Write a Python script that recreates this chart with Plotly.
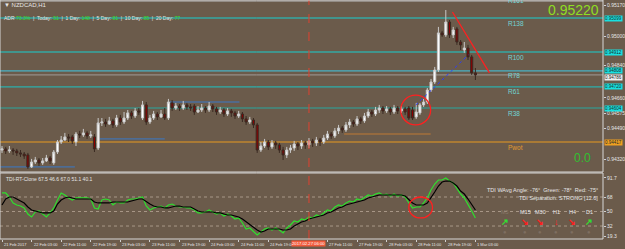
import plotly.graph_objects as go

# ---------------- data (prices in 1e-5 units, i.e. points) ----------------
opens = [94373,94379,94368,94373,94368,94357,94351,94346,94280,94307,
         94318,94302,94313,94329,94302,94362,94417,94428,94445,94445,
         94417,94461,94456,94467,94450,94445,94384,94522,94527,94516,
         94533,94511,94549,94527,94549,94577,94560,94588,94549,94621,
         94527,94549,94571,94555,94571,94549,94632,94604,94615,94604,
         94621,94610,94615,94582,94593,94604,94593,94615,94599,94582,
         94593,94571,94588,94577,94560,94571,94544,94527,94538,94511,
         94373,94395,94417,94390,94412,94401,94373,94346,94373,94384,
         94406,94395,94412,94401,94423,94412,94428,94417,94439,94461,
         94450,94478,94494,94483,94511,94527,94516,94544,94533,94560,
         94582,94571,94593,94604,94588,94599,94582,94604,94588,94599,
         94604,94593,94555,94577,94621,94637,94703,94747,94813,95017,
         95006,95077,95006,95039,94967,94923,94934,94885,94797]
highs = [94395,94390,94395,94384,94379,94373,94362,94357,94324,94335,
         94329,94329,94346,94340,94373,94428,94450,94467,94461,94456,
         94472,94478,94489,94478,94478,94461,94549,94549,94544,94555,
         94544,94566,94566,94582,94593,94588,94604,94604,94643,94637,
         94566,94588,94582,94593,94604,94654,94648,94632,94626,94643,
         94632,94626,94626,94615,94626,94615,94637,94626,94610,94610,
         94604,94604,94599,94588,94588,94582,94560,94555,94549,94522,
         94417,94434,94428,94428,94423,94412,94390,94390,94401,94423,
         94417,94428,94423,94439,94434,94445,94439,94456,94478,94472,
         94494,94511,94505,94527,94544,94538,94560,94555,94577,94599,
         94593,94610,94621,94615,94615,94610,94621,94615,94615,94610,
         94615,94610,94632,94632,94654,94714,94764,94830,95050,95028,
         95143,95088,95050,95050,94978,94967,94951,94896,94824]
lows = [94357,94351,94357,94346,94340,94335,94324,94269,94274,94296,
        94285,94291,94307,94296,94291,94351,94406,94423,94417,94406,
        94395,94439,94445,94434,94439,94362,94373,94505,94500,94511,
        94494,94500,94511,94516,94538,94544,94549,94566,94538,94511,
        94516,94538,94538,94549,94538,94538,94588,94593,94588,94593,
        94593,94588,94566,94577,94582,94577,94582,94582,94566,94571,
        94555,94560,94555,94544,94549,94527,94511,94516,94494,94357,
        94362,94384,94373,94379,94379,94357,94318,94329,94357,94368,
        94373,94379,94379,94384,94390,94395,94395,94406,94428,94434,
        94439,94461,94467,94472,94494,94500,94505,94516,94522,94549,
        94555,94560,94577,94571,94577,94566,94571,94571,94577,94566,
        94538,94538,94544,94566,94610,94626,94692,94736,94802,94995,
        94995,94989,94989,94951,94923,94907,94868,94786,94758]
closes = [94379,94368,94373,94368,94357,94351,94340,94280,94307,94318,
          94302,94313,94329,94313,94362,94417,94428,94445,94439,94423,
          94461,94456,94467,94450,94456,94379,94522,94527,94516,94533,
          94511,94549,94527,94549,94577,94560,94588,94582,94621,94527,
          94549,94571,94555,94571,94549,94637,94604,94615,94604,94621,
          94610,94604,94582,94593,94604,94593,94615,94599,94582,94593,
          94571,94588,94577,94560,94571,94544,94527,94538,94511,94373,
          94395,94417,94390,94412,94401,94373,94346,94373,94384,94406,
          94395,94412,94401,94423,94412,94428,94417,94439,94461,94450,
          94478,94494,94483,94511,94527,94516,94544,94533,94560,94582,
          94571,94593,94604,94588,94599,94582,94604,94588,94599,94582,
          94549,94549,94582,94621,94637,94703,94747,94813,95017,95006,
          95077,95006,95033,94967,94951,94934,94885,94797,94786]

tdi_green = [73.0,73.0,68.0,60.6,58.1,56.8,54.4,46.9,43.2,49.4,
             50.6,46.9,43.2,48.2,54.4,64.3,73.0,70.5,66.8,64.3,
             66.8,66.8,66.8,66.8,65.5,54.4,53.1,64.3,65.5,64.3,
             58.1,61.8,60.6,60.6,64.3,65.5,65.5,66.8,68.0,56.8,
             51.9,54.4,55.6,56.8,54.4,58.1,59.3,56.8,55.6,55.6,
             54.4,54.4,51.9,48.2,48.2,49.4,51.9,49.4,46.9,48.2,
             44.4,46.9,44.4,40.7,42.0,35.8,28.3,29.6,24.6,20.9,
             24.6,28.3,29.6,27.1,29.6,27.1,23.4,29.6,33.3,38.2,
             37.0,40.7,39.5,43.2,42.0,45.7,44.4,48.2,51.9,50.6,
             55.6,58.1,56.8,60.6,63.0,61.8,65.5,64.3,68.0,70.5,
             69.2,71.7,73.0,70.5,71.7,69.2,71.7,69.2,70.5,68.0,
             60.6,54.4,55.6,55.6,60.6,66.8,76.7,84.1,89.1,89.1,
             91.6,87.8,85.4,77.9,71.7,66.8,59.3,50.6,42.0]
tdi_signal = [58.1,65.5,68.0,68.0,65.5,63.0,60.6,55.6,51.9,50.6,
              49.4,48.2,48.2,48.2,50.6,59.3,64.3,66.8,68.0,66.8,
              65.5,65.5,65.5,65.5,65.5,61.8,60.6,60.6,60.6,60.6,
              61.8,61.8,61.8,61.8,61.8,63.0,64.3,65.5,65.5,61.8,
              59.3,56.8,55.6,55.6,54.4,54.4,55.6,56.8,56.8,55.6,
              55.6,55.6,53.1,50.6,49.4,49.4,49.4,49.4,48.2,48.2,
              46.9,45.7,45.7,44.4,43.2,40.7,37.0,33.3,30.8,27.1,
              24.6,25.8,28.3,28.3,28.3,28.3,27.1,27.1,28.3,32.0,
              34.5,37.0,38.2,40.7,42.0,43.2,44.4,45.7,48.2,49.4,
              51.9,54.4,55.6,58.1,59.3,60.6,61.8,63.0,64.3,66.8,
              68.0,69.2,70.5,70.5,70.5,70.5,70.5,70.5,70.5,69.2,
              65.5,60.6,58.1,58.1,58.1,60.6,66.8,74.2,81.6,86.6,
              87.8,87.8,85.4,81.6,75.4,71.7,65.5,58.1,51.9]

time_label_bars = [0, 8, 16, 24, 32, 40, 48, 56, 64, 72, 88, 96, 104, 112, 120, 128]
time_labels = ["21 Feb 2017", "22 Feb 03:00", "22 Feb 11:00", "22 Feb 19:00",
               "23 Feb 03:00", "23 Feb 11:00", "23 Feb 19:00", "24 Feb 03:00",
               "24 Feb 11:00", "24 Feb 19:00", "27 Feb 11:00", "27 Feb 19:00",
               "28 Feb 03:00", "28 Feb 11:00", "28 Feb 19:00", "1 Mar 03:00"]
cursor_bar = 83
cursor_label = "2017.02.27 06:00"

price_ticks = [95170, 95000, 94840, 94660, 94575, 94490, 94320]
tdi_ticks = [91.7, 68, 50, 32, 19.3]
tdi_levels = [68, 50, 32]

level_names = ["R161", "R138", "R100", "R78", "R61", "R38", "Pwot"]
level_prices = [95192, 95099, 94912, 94808, 94720, 94604, 94417]
bid_price = 94786

# short horizontal segments (bar from, bar to, price)
seg_from = [26.4, -0.5, 45.3, 92.5]
seg_to = [44.0, 19.7, 64.2, 115.9]
seg_price = [94434, 94280, 94637, 94461]
seg_color = ["#3a78c8", "#3a78c8", "#3a78c8", "#c07a35"]

# ---------------- figure ----------------
S = 1e5
bars = list(range(len(closes)))
PW, PH = 605, 239
BG = "#6b5b4b"
WHITE = "#e6e6e6"
FONT = "Liberation Sans"

def px(x):
    return x / PW

def py(y):
    return (PH - y) / PH

fig = go.Figure()
fig.add_trace(go.Candlestick(
    x=bars, open=[v / S for v in opens], high=[v / S for v in highs],
    low=[v / S for v in lows], close=[v / S for v in closes],
    increasing=dict(line=dict(color="#c8c8c8", width=1), fillcolor="#ffffff"),
    decreasing=dict(line=dict(color="#3a2a22", width=1), fillcolor="#8b0000"),
    whiskerwidth=0, xaxis="x", yaxis="y", hoverinfo="skip", showlegend=False))

fig.add_trace(go.Scatter(x=bars, y=tdi_green, mode="lines", line=dict(color="#2ee02e", width=1.2),
                         xaxis="x", yaxis="y2", hoverinfo="skip", showlegend=False))
fig.add_trace(go.Scatter(x=bars, y=tdi_signal, mode="lines", line=dict(color="#000000", width=1.2),
                         xaxis="x", yaxis="y2", hoverinfo="skip", showlegend=False))

shapes = []
level_colors = ["#b4b4b4", "#18d0d0", "#18d0d0", "#40c8e6", "#1cc4c4", "#28a8a0", "#e89a20"]
for p, c in zip(level_prices, level_colors):
    shapes.append(dict(type="line", xref="x domain", x0=0, x1=1, yref="y", y0=p / S, y1=p / S,
                       line=dict(color=c, width=1), layer="below"))
shapes.append(dict(type="line", xref="x domain", x0=0, x1=1, yref="y", y0=bid_price / S, y1=bid_price / S,
                   line=dict(color="#a09a98", width=1), layer="below"))
for a, b, p, c in zip(seg_from, seg_to, seg_price, seg_color):
    shapes.append(dict(type="line", xref="x", x0=a, x1=b, yref="y", y0=p / S, y1=p / S,
                       line=dict(color=c, width=1), layer="below"))
for lv in tdi_levels:
    shapes.append(dict(type="line", xref="x domain", x0=0, x1=1, yref="y2", y0=lv, y1=lv,
                       line=dict(color="#a89888", width=1, dash="dot"), layer="below"))
# drawn objects
shapes.append(dict(type="circle", xref="x", x0=107.8, x1=115.9, yref="y", y0=94511 / S, y1=94675 / S,
                   line=dict(color="#ff2020", width=1.3)))
shapes.append(dict(type="line", xref="x", x0=111.9, x1=126.1, yref="y", y0=94621 / S, y1=94896 / S,
                   line=dict(color="#2a3cff", width=1, dash="dot")))
shapes.append(dict(type="line", xref="x", x0=121.8, x1=131.8, yref="y", y0=95132 / S, y1=94797 / S,
                   line=dict(color="#ff2020", width=1.3)))
shapes.append(dict(type="circle", xref="x", x0=110, x1=116.4, yref="y2", y0=42, y1=68,
                   line=dict(color="#ff2020", width=1.3)))
shapes.append(dict(type="line", xref="x", x0=cursor_bar, x1=cursor_bar, yref="paper", y0=0, y1=1,
                   line=dict(color="#e04030", width=1, dash="dash")))
# panel frames
shapes.append(dict(type="rect", xref="x domain", x0=0, x1=1, yref="y domain", y0=0, y1=1,
                   line=dict(color="#d8d8d8", width=1)))
shapes.append(dict(type="rect", xref="x domain", x0=0, x1=1, yref="y2 domain", y0=0, y1=1,
                   line=dict(color="#d8d8d8", width=1)))

ann = []
def note(x, y, text, size=5.5, color=WHITE, xanchor="left", yanchor="middle", **kw):
    ann.append(dict(xref="paper", yref="paper", x=px(x), y=py(y), text=text, showarrow=False,
                    xanchor=xanchor, yanchor=yanchor, font=dict(size=size, color=color, family=FONT), **kw))

# level labels
for name, p, c in zip(level_names, level_prices, level_colors):
    col = "#e09a30" if name == "Pwot" else "#72d4d4"
    shift = 1 if name == "R161" else -5
    ann.append(dict(xref="x", yref="y", x=136.4, y=p / S, yshift=shift, text=name, showarrow=False,
                    xanchor="left", yanchor="middle", font=dict(size=6.5, color=col, family=FONT)))
# price boxes on right axis
box_bg = ["#b4b4b4", "#18e0e0", "#18e0e0", "#18e0e0", "#18e0e0", "#18e0e0", "#f0a020"]
for p, bg in zip(level_prices[1:], box_bg[1:]):
    ann.append(dict(xref="paper", yref="y", x=1, xshift=1, y=p / S, text=f"{p / S:.5f}", showarrow=False,
                    xanchor="left", yanchor="middle", bgcolor=bg, borderpad=0,
                    font=dict(size=4.5, color="#1a2a2a", family=FONT)))
ann.append(dict(xref="paper", yref="y", x=1, xshift=1, y=bid_price / S, yshift=-3, text=f"{bid_price / S:.5f}",
                showarrow=False, xanchor="left", yanchor="middle", bgcolor="#f0f0f0", borderpad=0,
                font=dict(size=4.5, color="#1a1a1a", family=FONT)))

# time labels
for b, t in zip(time_label_bars, time_labels):
    ann.append(dict(xref="x", yref="paper", x=b, y=0, yshift=-1, text=t, showarrow=False,
                    xanchor="left", yanchor="top", font=dict(size=4, color=WHITE, family=FONT)))
ann.append(dict(xref="x", yref="paper", x=cursor_bar, y=0, yshift=-1, text=cursor_label, showarrow=False,
                xanchor="center", yanchor="top", bgcolor="#f05a3a", borderpad=0,
                font=dict(size=4.2, color="#ffffff", family=FONT)))

# header texts
note(2, 5, "▼&nbsp;NZDCAD,H1", size=6)
g = "#30e030"
note(2, 18, "ADR <span style='color:%s'>73.3%%</span>&nbsp;&nbsp;|&nbsp;&nbsp;Today: <span style='color:%s'>51</span>"
            "&nbsp;&nbsp;|&nbsp;&nbsp;1 Day: <span style='color:%s'>148</span>&nbsp;&nbsp;|&nbsp;&nbsp;5 Day: "
            "<span style='color:%s'>81</span>&nbsp;&nbsp;|&nbsp;&nbsp;10 Day: <span style='color:%s'>85</span>"
            "&nbsp;&nbsp;|&nbsp;&nbsp;20 Day: <span style='color:%s'>77</span>" % (g, g, g, g, g, g), size=5)
note(603, 10, "0.95220", size=14, color="#8ede22", xanchor="right")
note(595, 158, "0.0", size=12, color="#30c030", xanchor="right")

# indicator texts
note(4, 179, "TDI-RT-Clone 67.5 46.6 67.0 51.1 40.1", size=5)
note(602, 190, "TDI WAvg Angle: -76°&nbsp;&nbsp;Green: -78°&nbsp;&nbsp;Red: -75°", size=5.5, xanchor="right")
note(602, 198, "TDI Separation: STRONG [12.6]", size=5.5, xanchor="right")
tf_names = ["M5", "M15", "M30", "H1", "H4", "D1"]
tf_x = [507, 527, 542, 558, 574, 591]
tf_arrow = ["↗", "↘", "↘", "↓", "↘", "↗"]
tf_arrow_col = ["#30e030", "#ff2020", "#ff2020", "#ff2020", "#ff2020", "#30e030"]
for i, (n, x, a, c) in enumerate(zip(tf_names, tf_x, tf_arrow, tf_arrow_col)):
    note(x, 212, n, size=5.5, color="#8a7a6a" if i == 0 else WHITE, xanchor="center")
    note(x, 222, "<b>%s</b>" % a, size=9, color=c, xanchor="center")
    note(x, 232, "●", size=6, color="#7e6e60", xanchor="center")

fig.update_layout(
    width=625, height=249, margin=dict(l=0, r=20, t=0, b=10),
    paper_bgcolor=BG, plot_bgcolor=BG, showlegend=False, boxgap=0.2,
    font=dict(family=FONT, size=5, color=WHITE),
    xaxis=dict(domain=[0, 1], range=[-0.54, 162.5], anchor="y2", showticklabels=False,
               ticks="outside", tickvals=time_label_bars, ticklen=2, tickcolor="#d0d0d0",
               showgrid=False, zeroline=False, rangeslider=dict(visible=False), fixedrange=True),
    yaxis=dict(domain=[(PH - 172) / PH, 1], range=[0.94252, 0.95198], side="right", anchor="x",
               tickvals=[v / S for v in price_ticks], ticktext=[f"{v / S:.5f}" for v in price_ticks],
               tickfont=dict(size=5, color=WHITE, family=FONT), ticks="outside", ticklen=2,
               tickcolor="#d0d0d0", showgrid=False, zeroline=False, fixedrange=True),
    yaxis2=dict(domain=[0, (PH - 173) / PH], range=[15.92, 97.76], side="right", anchor="x",
                tickvals=tdi_ticks, ticktext=[str(v) for v in tdi_ticks],
                tickfont=dict(size=5, color=WHITE, family=FONT), ticks="outside", ticklen=2,
                tickcolor="#d0d0d0", showgrid=False, zeroline=False, fixedrange=True),
    shapes=shapes, annotations=ann,
)

fig.write_html("out.html", config={"displayModeBar": False})
